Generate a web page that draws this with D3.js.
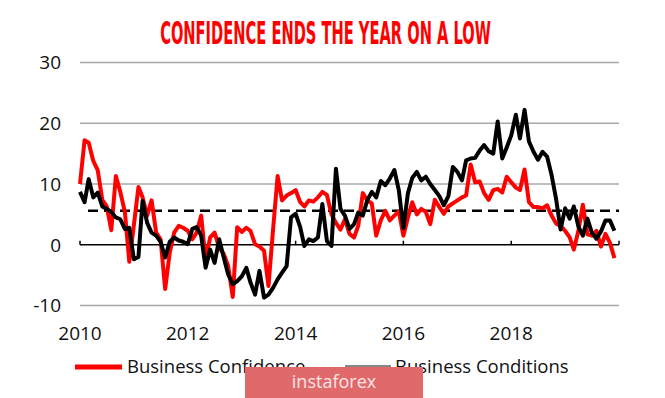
<!DOCTYPE html>
<html><head><meta charset="utf-8">
<script src="https://cdn.jsdelivr.net/npm/d3@7"></script>
<style>body{margin:0;background:#fff}svg{display:block}</style>
</head><body><svg id="c" width="665" height="398"></svg>
<script>
const title = "CONFIDENCE ENDS THE YEAR ON A LOW";
const seriesNames = ["Business Confidence", "Business Conditions"];
const startYear = 2010, startMonth = 0;
const confidence = [
 10.0,17.2,16.8,13.8,12.3,7.4,6.3,2.4,11.3,8.7,5.4,-2.8,
 3.2,9.5,7.8,4.8,7.3,2.0,0.9,-7.3,-1.3,2.0,3.1,2.8,
 2.3,0.9,2.0,4.8,-2.5,1.2,2.0,-0.5,-1.5,-3.5,-8.6,2.9,
 2.1,2.8,2.3,0.1,-0.3,-1.0,-6.8,2.5,11.3,7.3,8.1,8.5,
 9.0,7.0,6.3,7.3,7.1,7.8,8.7,8.2,5.0,3.6,2.5,4.2,
 1.8,1.2,3.1,8.5,7.3,6.8,1.5,4.0,5.6,4.0,4.8,5.5,
 1.5,4.5,7.0,5.0,5.9,5.4,3.4,7.4,6.2,5.1,6.3,6.8,
 7.3,7.8,8.1,13.2,10.3,10.4,8.5,7.4,9.0,9.2,8.6,11.2,
 10.3,9.4,9.0,12.4,7.0,6.2,6.2,6.0,6.5,4.8,3.5,3.1,
 2.3,1.2,-0.8,2.3,6.6,1.7,1.5,2.3,-0.3,1.8,0.3,-2.2
];
const conditions = [
 8.7,7.0,10.8,7.8,8.6,6.3,5.9,5.4,4.5,4.2,2.6,2.8,
 -2.4,-2.0,7.2,3.6,2.0,1.5,0.5,-2.1,0.5,1.2,0.7,0.5,
 0.1,2.6,2.9,1.5,-3.8,-0.8,-3.0,0.9,-2.1,-4.9,-6.5,-6.0,
 -5.2,-3.8,-6.2,-8.2,-4.3,-8.7,-8.2,-7.1,-5.7,-4.6,-3.5,4.5,
 5.1,2.9,-0.2,0.9,0.6,1.2,6.7,0.6,-0.2,12.5,5.9,4.8,
 2.6,3.4,5.3,4.8,7.3,8.7,7.8,10.5,9.8,10.9,12.3,9.0,
 2.7,8.5,11.0,12.0,10.6,11.2,10.0,9.0,8.0,6.5,8.0,12.8,
 12.0,10.6,13.9,14.2,14.3,15.5,16.4,15.4,15.0,20.3,14.2,16.0,
 18.0,21.4,17.5,22.2,17.0,15.3,14.0,15.3,14.5,11.5,7.5,2.5,
 6.0,4.3,6.3,3.0,1.5,4.3,2.0,1.0,2.2,4.0,4.0,2.3
];
const conditionsAverage = 5.6;
const yTicks = [-10, 0, 10, 20, 30];
const xTickYears = [2010, 2012, 2014, 2016, 2018];
const axisTickYears = [2010, 2012, 2014, 2016, 2018, 2020];

const svg = d3.select("#c");
const x = d3.scaleTime().domain([new Date(2010,0,1), new Date(2020,0,1)]).range([80, 619]);
const y = d3.scaleLinear().domain([-10, 30]).range([305.5, 62.5]);
const dateOf = i => new Date(startYear, startMonth + i, 1);

// title (condensed by horizontal scaling to the reference width)
const tg = svg.append("g");
const tt = tg.append("text").attr("x", 0).attr("y", 0).attr("text-anchor", "middle")
  .attr("font-family", "'DejaVu Sans Condensed','DejaVu Sans',sans-serif")
  .attr("font-stretch", "condensed").attr("font-weight", "bold")
  .attr("font-size", 32).attr("fill", "#ff0000")
  .text(title);
const natural = tt.node().getComputedTextLength();
tg.attr("transform", `translate(325.5,44) scale(${331 / natural},1)`);

// gridlines
svg.append("g").selectAll("line").data(yTicks.filter(d => d !== 0)).join("line")
  .attr("x1", x.range()[0]).attr("x2", x.range()[1])
  .attr("y1", d => y(d)).attr("y2", d => y(d))
  .attr("stroke", "#a8a8a8").attr("stroke-width", 1.5);

// y labels
svg.append("g").selectAll("text").data(yTicks).join("text")
  .attr("x", 61).attr("y", d => y(d)).attr("dy", "0.36em").attr("text-anchor", "end")
  .attr("font-family", "'Open Sans',sans-serif").attr("font-size", 19).attr("fill", "#111")
  .text(d => d);

// x labels
svg.append("g").selectAll("text").data(xTickYears).join("text")
  .attr("x", d => x(new Date(d,0,1))).attr("y", 340).attr("text-anchor", "middle")
  .attr("font-family", "'Open Sans',sans-serif").attr("font-size", 19).attr("fill", "#111")
  .text(d => d);

// zero axis + ticks
svg.append("line").attr("x1", x.range()[0]).attr("x2", x.range()[1])
  .attr("y1", y(0)).attr("y2", y(0)).attr("stroke", "#000").attr("stroke-width", 1.5);
svg.append("g").selectAll("line").data(axisTickYears).join("line")
  .attr("x1", d => x(new Date(d,0,1))).attr("x2", d => x(new Date(d,0,1)))
  .attr("y1", y(0)).attr("y2", y(0) - 4).attr("stroke", "#000").attr("stroke-width", 1.5);

// dashed average
svg.append("line").attr("x1", 88).attr("x2", x.range()[1])
  .attr("y1", y(conditionsAverage)).attr("y2", y(conditionsAverage))
  .attr("stroke", "#000").attr("stroke-width", 2.5).attr("stroke-dasharray", "10,6");

const line = d3.line().x((d, i) => x(dateOf(i))).y(d => y(d)).curve(d3.curveLinear);
svg.append("path").datum(confidence).attr("d", line).attr("fill", "none")
  .attr("stroke", "#ff0000").attr("stroke-width", 4).attr("stroke-linejoin", "round");
svg.append("path").datum(conditions).attr("d", line).attr("fill", "none")
  .attr("stroke", "#000").attr("stroke-width", 4).attr("stroke-linejoin", "round");

// legend
const lg = svg.append("g").attr("font-family", "'Open Sans',sans-serif").attr("font-size", 18.5).attr("fill", "#111");
lg.append("line").attr("x1", 75).attr("x2", 122).attr("y1", 367).attr("y2", 367)
  .attr("stroke", "#ff0000").attr("stroke-width", 5);
lg.append("text").attr("x", 127).attr("y", 373).text(seriesNames[0]);
lg.append("line").attr("x1", 345).attr("x2", 391).attr("y1", 366).attr("y2", 366)
  .attr("stroke", "#888").attr("stroke-width", 2);
lg.append("text").attr("x", 395).attr("y", 373).text(seriesNames[1]);

// watermark
svg.append("rect").attr("x", 245).attr("y", 367).attr("width", 178).attr("height", 31).attr("fill", "#e06a6b");
svg.append("text").attr("x", 334).attr("y", 388).attr("text-anchor", "middle")
  .attr("font-family", "'Open Sans',sans-serif").attr("font-size", 18).attr("fill", "#fbe4e4")
  .text("instaforex");
</script></body></html>
